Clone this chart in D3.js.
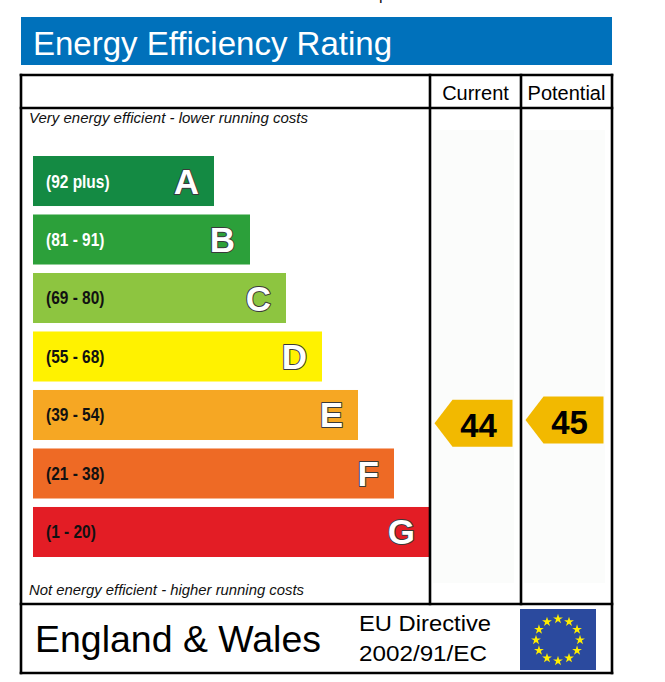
<!DOCTYPE html>
<html>
<head>
<meta charset="utf-8">
<script src="https://cdn.jsdelivr.net/npm/d3@7"></script>
<style>
  body { margin: 0; background: #fff; }
  svg { display: block; font-family: "Liberation Sans", Arial, sans-serif; }
</style>
</head>
<body>
<svg id="chart" width="665" height="682"></svg>
<script>
// rating bands, best to worst
var bandLetters = ["A", "B", "C", "D", "E", "F", "G"];
var bandRanges = ["(92 plus)", "(81 - 91)", "(69 - 80)", "(55 - 68)", "(39 - 54)", "(21 - 38)", "(1 - 20)"];
var bandMin = [92, 81, 69, 55, 39, 21, 1];
var bandMax = [100, 91, 80, 68, 54, 38, 20];
var bandColors = ["#148a43", "#2ca03a", "#8dc540", "#fff200", "#f6a723", "#ee6a25", "#e31d25"];
var bandTextColors = ["#fff", "#fff", "#111", "#111", "#111", "#111", "#111"];

// the two scores
var ratingLabels = ["Current", "Potential"];
var ratingValues = [44, 45];

var svg = d3.select("#chart");
var boxL = 21, boxR = 612, boxT = 75, boxB = 673;
var headY = 108, footY = 604, chartRight = 430;

// clipped remnant at top of page
svg.append("text").attr("x", 379).attr("y", 0).attr("font-size", 16).attr("fill", "#111").text("p");

// title bar
svg.append("rect").attr("x", boxL).attr("y", 17).attr("width", boxR - boxL).attr("height", 48).attr("fill", "#0071bb");
svg.append("text").attr("x", 33).attr("y", 55).attr("fill", "#fff")
  .attr("font-size", 34).attr("textLength", 359).attr("lengthAdjust", "spacingAndGlyphs")
  .text("Energy Efficiency Rating");

// scales
var y = d3.scaleBand().domain(bandLetters).range([156, 557]).paddingInner(0.145);
var xBar = d3.scaleLinear().domain([0, bandLetters.length - 1]).range([214, chartRight]);
var xCol = d3.scaleBand().domain(ratingLabels).range([chartRight, boxR]);

// score -> vertical position inside its band
var dom = [], rng = [];
for (var i = bandLetters.length - 1; i >= 0; i--) {
  dom.push(bandMin[i], bandMax[i]);
  rng.push(y(bandLetters[i]) + y.bandwidth(), y(bandLetters[i]));
}
var yScore = d3.scaleLinear().domain(dom).range(rng);

// column shading
svg.selectAll(".colbg").data(ratingLabels).enter().append("rect")
  .attr("x", function(d) { return xCol(d) + 3; })
  .attr("y", 130)
  .attr("width", xCol.bandwidth() - 10)
  .attr("height", 453)
  .attr("fill", "#fbfcfb");

// bars
var bars = svg.selectAll(".band").data(bandLetters).enter().append("g").attr("class", "band");
bars.append("rect")
  .attr("x", 33)
  .attr("y", function(d) { return y(d); })
  .attr("width", function(d, i) { return xBar(i) - 33; })
  .attr("height", y.bandwidth())
  .attr("fill", function(d, i) { return bandColors[i]; });
bars.append("text")
  .attr("x", 46)
  .attr("y", function(d) { return y(d) + y.bandwidth() / 2 + 6.5; })
  .attr("font-size", 18).attr("font-weight", "bold")
  .attr("fill", function(d, i) { return bandTextColors[i]; })
  .attr("transform", "translate(46,0) scale(0.86,1) translate(-46,0)")
  .text(function(d, i) { return bandRanges[i]; });
bars.append("text")
  .attr("x", function(d, i) { return xBar(i) - 15; })
  .attr("y", function(d) { return y(d) + y.bandwidth() / 2 + 12.5; })
  .attr("text-anchor", "end")
  .attr("font-size", 35).attr("font-weight", "bold")
  .attr("fill", "#fff").attr("stroke", "#3a3a3a").attr("stroke-width", 2)
  .attr("paint-order", "stroke").attr("stroke-linejoin", "round")
  .text(function(d) { return d; });

// notes
svg.append("text").attr("x", 29).attr("y", 123).attr("font-size", 14).attr("font-style", "italic")
  .attr("textLength", 279).attr("lengthAdjust", "spacingAndGlyphs").attr("fill", "#111")
  .text("Very energy efficient - lower running costs");
svg.append("text").attr("x", 29).attr("y", 595).attr("font-size", 14).attr("font-style", "italic")
  .attr("textLength", 275).attr("lengthAdjust", "spacingAndGlyphs").attr("fill", "#111")
  .text("Not energy efficient - higher running costs");

// score arrows
var arrowH = 47, notch = 18;
var arrows = svg.selectAll(".score").data(ratingLabels).enter().append("g").attr("class", "score");
arrows.append("path")
  .attr("d", function(d, i) {
    var x0 = xCol(d) + 4.5, x1 = xCol(d) + xCol.bandwidth() - 8.5, cy = yScore(ratingValues[i]);
    return d3.line()([[x0, cy], [x0 + notch, cy - arrowH / 2], [x1, cy - arrowH / 2],
                      [x1, cy + arrowH / 2], [x0 + notch, cy + arrowH / 2]]) + "Z";
  })
  .attr("fill", "#f2b900");
arrows.append("text")
  .attr("x", function(d) { return xCol(d) + 4.5 + notch + (xCol.bandwidth() - 13 - notch) / 2 - 4; })
  .attr("y", function(d, i) { return yScore(ratingValues[i]) + 14; })
  .attr("text-anchor", "middle")
  .attr("font-size", 33).attr("font-weight", "bold").attr("fill", "#000")
  .text(function(d, i) { return ratingValues[i]; });

// header labels
svg.selectAll(".head").data(ratingLabels).enter().append("text")
  .attr("x", function(d) { return xCol(d) + xCol.bandwidth() / 2; })
  .attr("y", 100)
  .attr("text-anchor", "middle")
  .attr("font-size", 20).attr("fill", "#000")
  .text(function(d) { return d; });

// table lines
var lines = [
  [boxL, boxT, boxR, boxT], [boxL, boxB, boxR, boxB],
  [boxL, boxT, boxL, boxB], [boxR, boxT, boxR, boxB],
  [boxL, headY, boxR, headY], [boxL, footY, boxR, footY]
];
xCol.domain().forEach(function(d) { lines.push([xCol(d), boxT, xCol(d), footY]); });
svg.selectAll(".grid").data(lines).enter().append("line")
  .attr("x1", function(d) { return d[0]; }).attr("y1", function(d) { return d[1]; })
  .attr("x2", function(d) { return d[2]; }).attr("y2", function(d) { return d[3]; })
  .attr("stroke", "#000").attr("stroke-width", 2.6).attr("stroke-linecap", "square");

// footer
svg.append("text").attr("x", 35).attr("y", 652).attr("font-size", 37)
  .attr("textLength", 286).attr("lengthAdjust", "spacingAndGlyphs").text("England & Wales");
svg.append("text").attr("x", 359).attr("y", 631).attr("font-size", 22)
  .attr("textLength", 132).attr("lengthAdjust", "spacingAndGlyphs").text("EU Directive");
svg.append("text").attr("x", 359).attr("y", 661).attr("font-size", 22)
  .attr("textLength", 128).attr("lengthAdjust", "spacingAndGlyphs").text("2002/91/EC");

// EU flag
svg.append("rect").attr("x", 520).attr("y", 609).attr("width", 76).attr("height", 61).attr("fill", "#2b4a9e");
var stars = d3.range(12);
svg.selectAll(".star").data(stars).enter().append("path")
  .attr("d", d3.symbol(d3.symbolStar).size(30))
  .attr("transform", function(d) {
    var a = d / 12 * 2 * Math.PI;
    return "translate(" + (558 + 22 * Math.sin(a)) + "," + (640 - 21 * Math.cos(a)) + ")";
  })
  .attr("fill", "#ffee00");
</script>
</body>
</html>
